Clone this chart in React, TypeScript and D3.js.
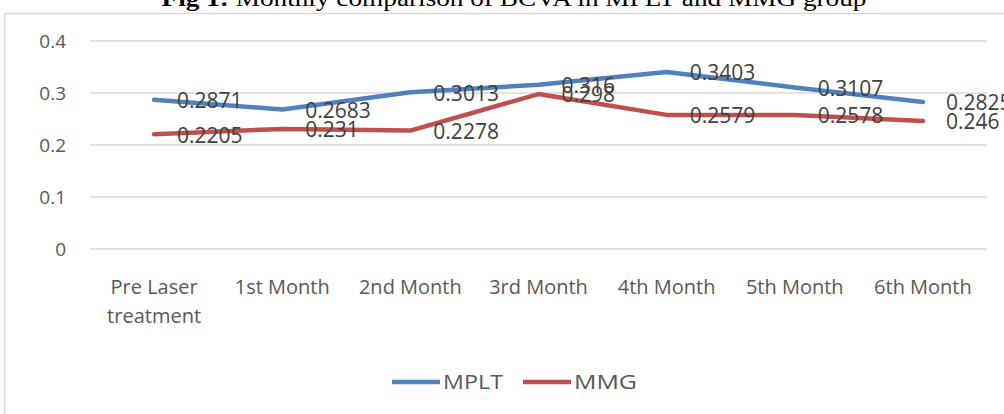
import * as d3 from 'd3';

const categories = ['Pre Laser treatment', '1st Month', '2nd Month', '3rd Month', '4th Month', '5th Month', '6th Month'];
const mpltValues = [0.2871, 0.2683, 0.3013, 0.316, 0.3403, 0.3107, 0.2825];
const mmgValues = [0.2205, 0.231, 0.2278, 0.298, 0.2579, 0.2578, 0.246];
const yTicks = [0, 0.1, 0.2, 0.3, 0.4];

const series = [
	{ name: 'MPLT', values: mpltValues, color: '#4f81bd' },
	{ name: 'MMG', values: mmgValues, color: '#c0504d' },
];

const W = 1004;
const H = 414;
const margin = { top: 41, bottom: 165, left: 90, right: 17 };
const textColor = '#595959';
const font = '"Open Sans", sans-serif';

export default function App() {
	// scales
	const x = d3.scaleBand().domain(categories).range([margin.left, W - margin.right]);
	const y = d3.scaleLinear().domain([0, 0.4]).range([H - margin.bottom, margin.top]);
	const cx = (c: string) => x(c)! + x.bandwidth() / 2;

	const line = d3
		.line<number>()
		.x((_, i) => cx(categories[i]))
		.y((d) => y(d));

	// wrap long category names on two lines
	const wrap = (c: string) => (c === 'Pre Laser treatment' ? ['Pre Laser', 'treatment'] : [c]);

	return (
		<svg width={W} height={H} style={{ position: 'absolute', left: 0, top: 0, display: 'block' }}>
			<rect width={W} height={H} fill="#fff" />
			<text x={514} y={6} textAnchor="middle" fontFamily='"Liberation Serif", serif' fontSize={23} fill="#000" textLength={705} lengthAdjust="spacingAndGlyphs">
				<tspan fontWeight="bold">Fig 1:</tspan> Monthly comparison of BCVA in MPLT and MMG group
			</text>
			<rect x={4.5} y={13.5} width={W + 10} height={H + 10} fill="none" stroke="#d9d9d9" strokeWidth={1.5} />

			{/* gridlines + y ticks */}
			{yTicks.map((t) => (
				<g key={t}>
					<line x1={margin.left} x2={W - margin.right} y1={y(t)} y2={y(t)} stroke="#d9d9d9" strokeWidth={1.5} />
					<text x={66} y={y(t)} dy="0.35em" textAnchor="end" fontFamily={font} fontSize={19} fill={textColor}>
						{t === 0 ? '0' : t.toFixed(1)}
					</text>
				</g>
			))}

			{/* category labels */}
			{categories.map((c) => (
				<text key={c} x={cx(c)} y={294} textAnchor="middle" fontFamily={font} fontSize={20} fill={textColor}>
					{wrap(c).map((s, i) => (
						<tspan key={i} x={cx(c)} dy={i === 0 ? 0 : 29}>
							{s}
						</tspan>
					))}
				</text>
			))}

			{/* lines */}
			{series.map((s) => (
				<path key={s.name} d={line(s.values)!} fill="none" stroke={s.color} strokeWidth={4.5} strokeLinejoin="round" strokeLinecap="round" />
			))}

			{/* data labels */}
			{series.map((s) =>
				s.values.map((v, i) => (
					<text key={s.name + i} x={cx(categories[i]) + 23} y={y(v) + 1} dy="0.35em" fontFamily={font} fontSize={21} fill="#404040">
						{String(v)}
					</text>
				))
			)}

			{/* legend */}
			{series.map((s, i) => {
				const lx = 392 + i * 131;
				return (
					<g key={s.name}>
						<line x1={lx} x2={lx + 48} y1={382} y2={382} stroke={s.color} strokeWidth={4.5} />
						<text x={lx + 51} y={382} dy="0.35em" fontFamily={font} fontSize={20} fill={textColor} textLength={s.name === 'MPLT' ? 60 : 63} lengthAdjust="spacingAndGlyphs">
							{s.name}
						</text>
					</g>
				);
			})}
		</svg>
	);
}
